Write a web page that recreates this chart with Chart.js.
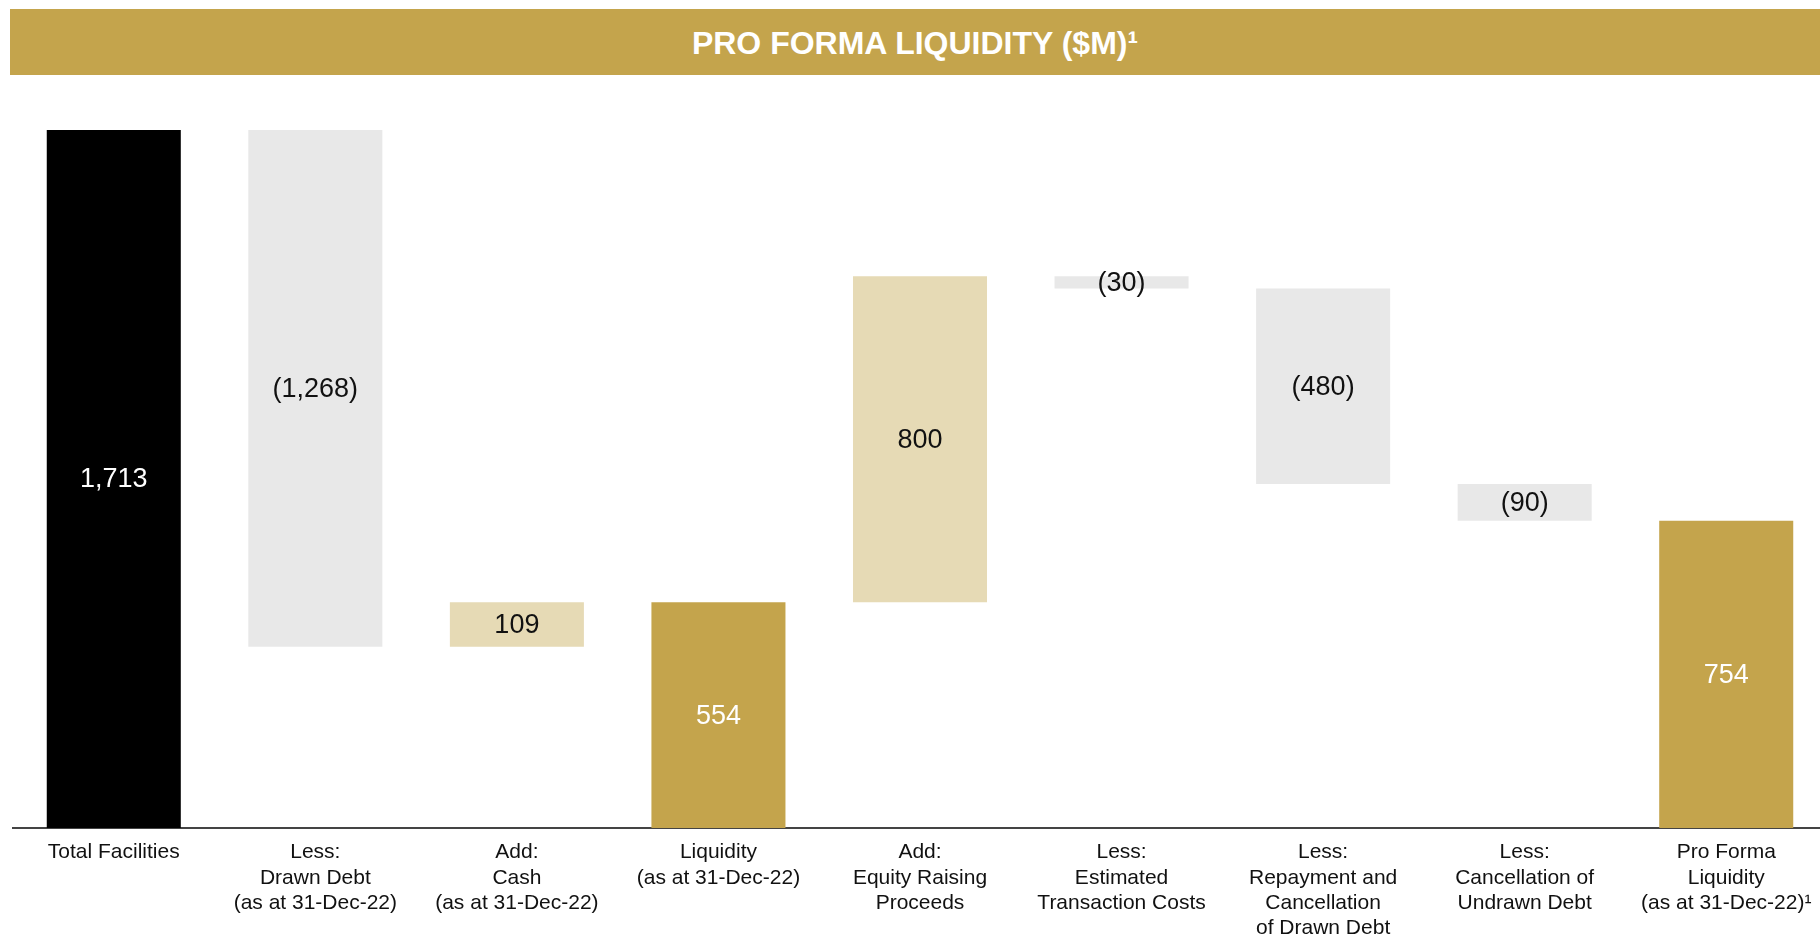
<!DOCTYPE html>
<html>
<head>
<meta charset="utf-8">
<title>Pro Forma Liquidity</title>
<script src="https://cdn.jsdelivr.net/npm/chart.js@4/dist/chart.umd.min.js"></script>
<style>
  html, body { margin: 0; padding: 0; background: #fff; overflow: hidden; }
  #wrap { position: relative; width: 1820px; height: 937px; overflow: hidden; }
  #band {
    position: absolute; left: 10px; top: 9px; width: 1810px; height: 66px;
    background: #c4a44c; color: #fff; text-align: center;
    font: bold 32px 'Liberation Sans', Arial, sans-serif;
    line-height: 68px;
  }
  #chart { position: absolute; left: 0; top: 0; }
</style>
</head>
<body>
<div id="wrap">
  <canvas id="chart" width="1830" height="937"></canvas>
  <div id="band">PRO FORMA LIQUIDITY ($M)¹</div>
</div>
<script>
// categories (multi-line tick labels)
const categories = [
  ['Total Facilities'],
  ['Less:', 'Drawn Debt', '(as at 31-Dec-22)'],
  ['Add:', 'Cash', '(as at 31-Dec-22)'],
  ['Liquidity', '(as at 31-Dec-22)'],
  ['Add:', 'Equity Raising', 'Proceeds'],
  ['Less:', 'Estimated', 'Transaction Costs'],
  ['Less:', 'Repayment and', 'Cancellation', 'of Drawn Debt'],
  ['Less:', 'Cancellation of', 'Undrawn Debt'],
  ['Pro Forma', 'Liquidity', '(as at 31-Dec-22)¹']
];

// $M values; 'total' bars start at zero, 'step' bars float on the running total
const barValues = [1713, -1268, 109, 554, 800, -30, -480, -90, 754];
const barKinds = ['total', 'step', 'step', 'total', 'step', 'step', 'step', 'step', 'total'];

const barColors = ['#000000', '#e8e8e8', '#e6dab5', '#c4a44c', '#e6dab5', '#e8e8e8', '#e8e8e8', '#e8e8e8', '#c4a44c'];
const labelColors = ['#ffffff', '#111111', '#111111', '#ffffff', '#111111', '#111111', '#111111', '#111111', '#ffffff'];

const FONT = "'Liberation Sans', Arial, sans-serif";

// build floating ranges for the waterfall
let running = 0;
const ranges = barValues.map((v, i) => {
  if (barKinds[i] === 'total') {
    running = v;
    return [0, v];
  }
  const start = running;
  running += v;
  return [Math.min(start, running), Math.max(start, running)];
});

function formatValue(v) {
  const s = Math.abs(v).toLocaleString('en-US');
  return v < 0 ? '(' + s + ')' : s;
}

// value labels in the middle of each bar
const valueLabels = {
  id: 'valueLabels',
  afterDatasetsDraw(chart) {
    const ctx = chart.ctx;
    const meta = chart.getDatasetMeta(0);
    ctx.save();
    ctx.font = '27px ' + FONT;
    ctx.textAlign = 'center';
    ctx.textBaseline = 'middle';
    meta.data.forEach((bar, i) => {
      const p = bar.getProps(['x', 'y', 'base'], true);
      ctx.fillStyle = labelColors[i];
      ctx.fillText(formatValue(barValues[i]), p.x, (p.y + p.base) / 2 + 1);
    });
    ctx.restore();
  }
};

const ctx = document.getElementById('chart').getContext('2d');
const chart = new Chart(ctx, {
  type: 'bar',
  data: {
    labels: categories,
    datasets: [{
      data: ranges,
      backgroundColor: barColors,
      borderWidth: 0,
      barPercentage: 0.665,
      categoryPercentage: 1
    }]
  },
  options: {
    responsive: false,
    animation: false,
    layout: { padding: { top: 94.5, left: 13, right: 3, bottom: 0 } },
    plugins: {
      legend: { display: false },
      tooltip: { enabled: false },
      title: { display: false }
    },
    scales: {
      x: {
        grid: { display: false, drawTicks: false },
        border: { display: true, color: '#444444', width: 2 },
        ticks: {
          color: '#111111',
          font: { family: FONT, size: 21, lineHeight: 1.2 },
          padding: 12,
          maxRotation: 0,
          autoSkip: false
        },
        afterFit: (scale) => { scale.height = 109; }
      },
      y: { display: false, min: 0, max: 1800 }
    }
  },
  plugins: [valueLabels]
});
</script>
</body>
</html>
